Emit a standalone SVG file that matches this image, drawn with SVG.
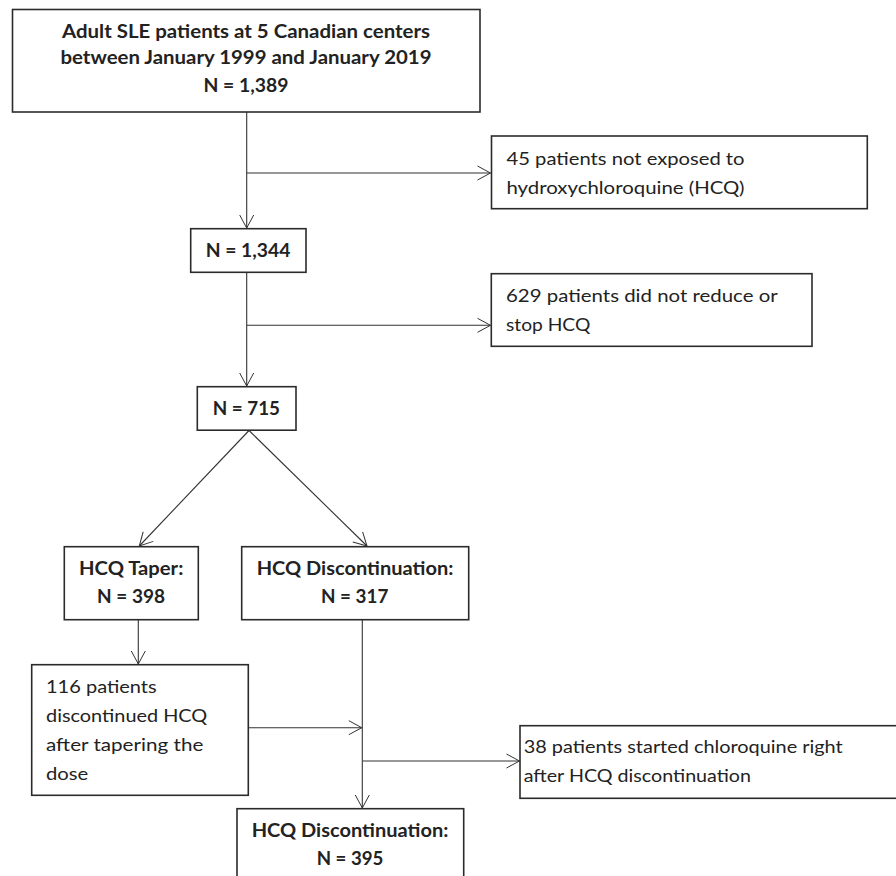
<svg xmlns="http://www.w3.org/2000/svg" width="896" height="876" viewBox="0 0 896 876">
<defs>
<marker id="arr" viewBox="0 0 16 16" refX="14" refY="8" markerWidth="16" markerHeight="16" markerUnits="userSpaceOnUse" orient="auto">
<path d="M1,1 L14,8 L1,15" fill="none" stroke="#333" stroke-width="1"/>
</marker>
<style>
.box{fill:#fff;stroke:#2b2b2b;stroke-width:1.6}
.t{font-family:Lato,"Open Sans","Liberation Sans",sans-serif;font-size:18px;fill:#222}
.b{font-weight:bold;text-anchor:middle}
.c{fill:none;stroke:#333;stroke-width:1.1;marker-end:url(#arr)}
</style>
</defs>
<rect width="896" height="876" fill="#fff"/>
<g id="connectors">
<path class="c" d="M246.7,112 V228"/>
<path class="c" d="M247,173 H490.5"/>
<path class="c" d="M246.7,272.5 V386"/>
<path class="c" d="M247,325.3 H490.5"/>
<path class="c" d="M249,430.5 L139.3,546"/>
<path class="c" d="M249,430.5 L367,546"/>
<path class="c" d="M138.3,620 V664"/>
<path class="c" d="M362.3,620 V808"/>
<path class="c" d="M248.5,727.7 H361.8"/>
<path class="c" d="M362.8,761 H519.5"/>
</g>
<g id="n_start">
<rect class="box" x="12.5" y="9.5" width="467.5" height="102.5"/>
<text class="t b" x="246" y="37.7" textLength="368" lengthAdjust="spacingAndGlyphs">Adult SLE patients at 5 Canadian centers</text>
<text class="t b" x="246" y="64.3" textLength="371" lengthAdjust="spacingAndGlyphs">between January 1999 and January 2019</text>
<text class="t b" x="246" y="91.7" textLength="85" lengthAdjust="spacingAndGlyphs">N = 1,389</text>
</g>
<g id="n_excl45">
<rect class="box" x="491.5" y="136" width="375.8" height="72.7"/>
<text class="t" x="506.5" y="165" textLength="238" lengthAdjust="spacingAndGlyphs">45 patients not exposed to</text>
<text class="t" x="506.5" y="194" textLength="238" lengthAdjust="spacingAndGlyphs">hydroxychloroquine (HCQ)</text>
</g>
<g id="n_1344">
<rect class="box" x="190.7" y="228.7" width="115.3" height="43.6"/>
<text class="t b" x="248" y="256.7" textLength="84.7" lengthAdjust="spacingAndGlyphs">N = 1,344</text>
</g>
<g id="n_excl629">
<rect class="box" x="491.3" y="273.7" width="320.7" height="72.6"/>
<text class="t" x="506" y="301.7" textLength="271.7" lengthAdjust="spacingAndGlyphs">629 patients did not reduce or</text>
<text class="t" x="506" y="330.7" textLength="84.3" lengthAdjust="spacingAndGlyphs">stop HCQ</text>
</g>
<g id="n_715">
<rect class="box" x="197.3" y="386.7" width="98.7" height="43.5"/>
<text class="t b" x="246.4" y="415" textLength="67.3" lengthAdjust="spacingAndGlyphs">N = 715</text>
</g>
<g id="n_taper">
<rect class="box" x="64.3" y="546.7" width="134" height="73"/>
<text class="t b" x="131.2" y="575" textLength="104.3" lengthAdjust="spacingAndGlyphs">HCQ Taper:</text>
<text class="t b" x="131" y="603.3" textLength="68" lengthAdjust="spacingAndGlyphs">N = 398</text>
</g>
<g id="n_disc317">
<rect class="box" x="241.7" y="546.7" width="227" height="73"/>
<text class="t b" x="355" y="575" textLength="196.7" lengthAdjust="spacingAndGlyphs">HCQ Discontinuation:</text>
<text class="t b" x="354.7" y="603.3" textLength="67.3" lengthAdjust="spacingAndGlyphs">N = 317</text>
</g>
<g id="n_116">
<rect class="box" x="31.7" y="664.7" width="216.6" height="130.6"/>
<text class="t" x="46" y="692.7" textLength="110.7" lengthAdjust="spacingAndGlyphs">116 patients</text>
<text class="t" x="46" y="721.7" textLength="161.3" lengthAdjust="spacingAndGlyphs">discontinued HCQ</text>
<text class="t" x="46" y="750.7" textLength="157.3" lengthAdjust="spacingAndGlyphs">after tapering the</text>
<text class="t" x="46" y="779.7" textLength="42.3" lengthAdjust="spacingAndGlyphs">dose</text>
</g>
<g id="n_excl38">
<rect class="box" x="520" y="725.7" width="390" height="72.6"/>
<text class="t" x="523.7" y="753.3" textLength="319" lengthAdjust="spacingAndGlyphs">38 patients started chloroquine right</text>
<text class="t" x="523.7" y="781.7" textLength="227.3" lengthAdjust="spacingAndGlyphs">after HCQ discontinuation</text>
</g>
<g id="n_disc395">
<rect class="box" x="237" y="808.7" width="226.7" height="90"/>
<text class="t b" x="350" y="836.7" textLength="196.7" lengthAdjust="spacingAndGlyphs">HCQ Discontinuation:</text>
<text class="t b" x="350" y="865" textLength="66.7" lengthAdjust="spacingAndGlyphs">N = 395</text>
</g>
</svg>
